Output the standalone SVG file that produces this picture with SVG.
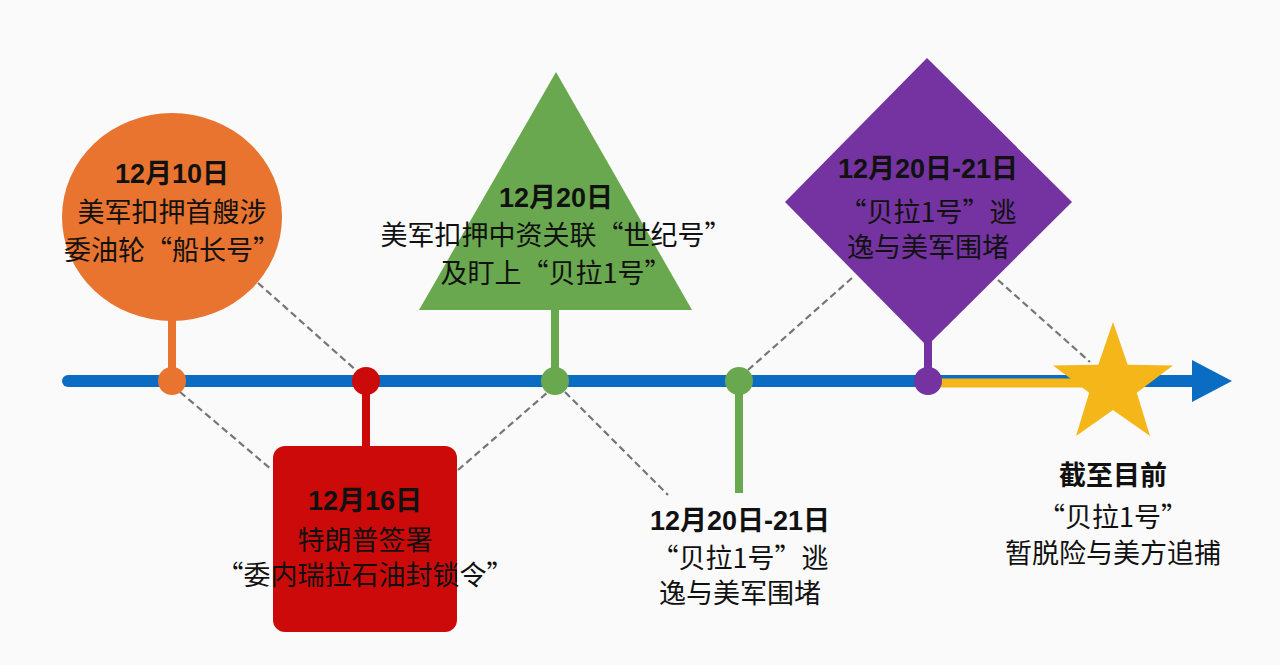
<svg xmlns="http://www.w3.org/2000/svg" width="1280" height="665" viewBox="0 0 1280 665">
<style>
.t{font-family:"Noto Sans CJK SC","Liberation Sans",sans-serif;font-size:27px;fill:#111;text-anchor:middle}
.d{font-family:"Liberation Sans","Noto Sans CJK SC",sans-serif;font-size:27px;font-weight:bold;fill:#111;text-anchor:middle}
.dash{stroke:#767676;stroke-width:2.2;stroke-dasharray:7 4;fill:none}
.stem{stroke-width:8;fill:none}
</style>
<rect width="1280" height="665" fill="#fafafa"/>
<g id="connectors">
<line class="dash" x1="258" y1="283" x2="358" y2="372"/>
<line class="dash" x1="180" y1="392" x2="272" y2="470"/>
<line class="dash" x1="458" y1="470" x2="548" y2="392"/>
<line class="dash" x1="565" y1="392" x2="668" y2="495"/>
<line class="dash" x1="748" y1="370" x2="852" y2="278"/>
<line class="dash" x1="998" y1="280" x2="1090" y2="362"/>
</g>
<g id="timeline">
<line x1="68" y1="381" x2="1196" y2="381" stroke="#0b6cc4" stroke-width="12" stroke-linecap="round"/>
<polygon points="1192,360 1232,381 1192,402" fill="#0b6cc4"/>
<line x1="928" y1="383" x2="1110" y2="383" stroke="#f4b619" stroke-width="9"/>
</g>
<g id="node-dec10">
<line class="stem" x1="172" y1="310" x2="172" y2="381" stroke="#e8742f"/>
<circle cx="172" cy="381" r="14" fill="#e8742f"/>
<ellipse cx="172" cy="217" rx="110" ry="104" fill="#e8742f"/>
<text class="d" x="172" y="183">12月10日</text>
<text class="t" x="172" y="222">美军扣押首艘涉</text>
<text class="t" x="172" y="260">委油轮“船长号”</text>
</g>
<g id="node-dec16">
<line class="stem" x1="366" y1="381" x2="366" y2="452" stroke="#cc0a0a"/>
<circle cx="366" cy="381" r="14" fill="#cc0a0a"/>
<rect x="273" y="446" width="184" height="186" rx="12" fill="#cc0a0a"/>
<text class="d" x="365" y="510">12月16日</text>
<text class="t" x="365" y="550">特朗普签署</text>
<text class="t" x="365" y="585">“委内瑞拉石油封锁令”</text>
</g>
<g id="node-dec20">
<line class="stem" x1="555" y1="300" x2="555" y2="381" stroke="#6aa84f"/>
<circle cx="555" cy="381" r="14" fill="#6aa84f"/>
<polygon points="556,72 692,310 419,310" fill="#6aa84f"/>
<text class="d" x="556" y="207">12月20日</text>
<text class="t" x="556" y="245">美军扣押中资关联“世纪号”</text>
<text class="t" x="556" y="283">及盯上“贝拉1号”</text>
</g>
<g id="node-dec20-21-below">
<line class="stem" x1="739" y1="381" x2="739" y2="493" stroke="#6aa84f"/>
<circle cx="739" cy="381" r="14" fill="#6aa84f"/>
<text class="d" x="740" y="530">12月20日-21日</text>
<text class="t" x="740" y="568">“贝拉1号”逃</text>
<text class="t" x="740" y="603">逸与美军围堵</text>
</g>
<g id="node-dec20-21-above">
<line class="stem" x1="928" y1="335" x2="928" y2="381" stroke="#7433a0"/>
<circle cx="928" cy="381" r="14" fill="#7433a0"/>
<polygon points="927,58 1072,202 927,346 785,202" fill="#7433a0"/>
<text class="d" x="928" y="178">12月20日-21日</text>
<text class="t" x="928" y="222">“贝拉1号”逃</text>
<text class="t" x="928" y="257">逸与美军围堵</text>
</g>
<g id="node-now">
<polygon points="1113,322 1127.7,364.8 1172.9,365.5 1136.8,392.7 1150,436 1113,410 1076,436 1089.2,392.7 1053.1,365.5 1098.3,364.8" fill="#f4b619"/>
<text class="d" x="1113" y="485">截至目前</text>
<text class="t" x="1113" y="527">“贝拉1号”</text>
<text class="t" x="1113" y="563">暂脱险与美方追捕</text>
</g>
</svg>
